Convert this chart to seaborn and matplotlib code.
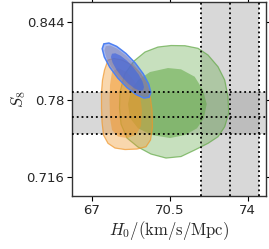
import matplotlib
matplotlib.use("Agg")
import matplotlib.pyplot as plt
import seaborn as sns

# local H0 prior and weak-lensing S8 prior (mean, errors)
h0_mean, h0_err = 73.2, 1.3
s8_mean, s8_up, s8_dn = 0.766, 0.020, 0.014

x_ticks = [67, 70.5, 74]
y_ticks = [0.716, 0.78, 0.844]

# contour outlines (H0, S8)
green95_h0 = [70.562, 71.191, 71.775, 72.224, 72.674, 72.975, 73.123, 73.154, 72.975, 72.674,
              72.224, 71.627, 71.012, 70.338, 69.664, 69.080, 68.586, 68.316, 68.249, 68.271,
              68.483, 68.900, 69.394, 69.978]
green95_s8 = [0.82463, 0.82446, 0.82232, 0.81680, 0.80715, 0.79619, 0.78242, 0.76898, 0.75769, 0.74944,
              0.74400, 0.73848, 0.73312, 0.73188, 0.73518, 0.74095, 0.74837, 0.75991, 0.77310, 0.78629,
              0.80113, 0.81185, 0.81927, 0.82339]
green68_h0 = [70.428, 71.012, 71.627, 72.000, 72.166, 72.045, 71.730, 71.191, 70.517, 69.709,
              69.080, 68.720, 68.631, 68.766, 69.080, 69.619]
green68_s8 = [0.80608, 0.80501, 0.79891, 0.78794, 0.77640, 0.76486, 0.75637, 0.75084, 0.74837, 0.75084,
              0.75637, 0.76486, 0.77640, 0.78794, 0.79619, 0.80278]

orange95_h0 = [67.732, 67.575, 67.485, 67.440, 67.440, 67.463, 67.530, 67.732, 68.047, 68.496,
               69.035, 69.439, 69.642, 69.731, 69.709, 69.619, 69.439, 69.170, 68.810, 68.361, 68.002]
orange95_s8 = [0.81267, 0.80443, 0.79619, 0.78629, 0.77310, 0.76156, 0.75084, 0.74400, 0.74013, 0.73889,
               0.73930, 0.74120, 0.74672, 0.75744, 0.77145, 0.78382, 0.79371, 0.80196, 0.80855, 0.81267, 0.81391]
orange68_h0 = [68.181, 67.912, 67.822, 67.800, 67.822, 67.912, 68.181, 68.586, 68.990, 69.215,
               69.260, 69.170, 68.945, 68.586]
orange68_s8 = [0.80608, 0.80278, 0.79206, 0.77970, 0.76486, 0.75496, 0.74961, 0.74837, 0.75084, 0.75826,
               0.77145, 0.78382, 0.79454, 0.80278]

blue95_h0 = [69.581, 69.655, 69.561, 69.316, 68.957, 68.537, 68.122, 67.774, 67.546, 67.472,
             67.566, 67.811, 68.170, 68.589, 69.005, 69.353]
blue95_s8 = [0.78203, 0.78605, 0.79281, 0.80126, 0.81015, 0.81810, 0.82390, 0.82668, 0.82600, 0.82198,
             0.81523, 0.80677, 0.79788, 0.78994, 0.78413, 0.78135]
bluemid_h0 = [69.493, 69.554, 69.463, 69.236, 68.906, 68.523, 68.148, 67.835, 67.634, 67.573,
              67.664, 67.891, 68.221, 68.603, 68.979, 69.292]
bluemid_s8 = [0.78392, 0.78749, 0.79357, 0.80125, 0.80935, 0.81665, 0.82200, 0.82464, 0.82412, 0.82055,
              0.81446, 0.80679, 0.79868, 0.79139, 0.78604, 0.78340]
blue68_h0 = [69.306, 69.351, 69.283, 69.113, 68.865, 68.579, 68.297, 68.062, 67.911, 67.865,
             67.934, 68.103, 68.351, 68.638, 68.920, 69.155]
blue68_s8 = [0.78770, 0.79038, 0.79495, 0.80070, 0.80678, 0.81224, 0.81627, 0.81825, 0.81786, 0.81518,
             0.81061, 0.80486, 0.79878, 0.79332, 0.78929, 0.78731]

sns.set_theme(style="ticks")
plt.rcParams["font.family"] = ["DejaVu Sans"]
plt.rcParams["mathtext.fontset"] = "cm"

fig = plt.figure(figsize=(2.69, 2.49), dpi=100)
ax = fig.add_axes([72 / 269, 53 / 249, 194 / 269, 194 / 249])

# priors: shaded bands with dotted mean / 1-sigma lines
ax.axvspan(h0_mean - h0_err, h0_mean + h0_err, color="grey", alpha=0.3, lw=0, zorder=1)
ax.axhspan(s8_mean - s8_dn, s8_mean + s8_up, color="grey", alpha=0.3, lw=0, zorder=1)

# contours
green = (0.38, 0.66, 0.27)
orange = (0.94, 0.59, 0.16)
blue = (0.25, 0.40, 0.88)
ax.fill(green95_h0, green95_s8, fc=green, alpha=0.35, ec="none", zorder=2)
ax.fill(green95_h0, green95_s8, fc="none", ec=green, lw=0.9, alpha=0.7, zorder=2)
ax.fill(green68_h0, green68_s8, fc=green, alpha=0.55, ec="none", zorder=2)

ax.fill(orange95_h0, orange95_s8, fc=orange, alpha=0.38, ec="none", zorder=3)
ax.fill(orange95_h0, orange95_s8, fc="none", ec=orange, lw=0.9, alpha=0.7, zorder=3)
ax.fill(orange68_h0, orange68_s8, fc=orange, alpha=0.5, ec="none", zorder=3)

ax.fill(blue95_h0, blue95_s8, fc=blue, alpha=0.45, ec="none", zorder=4)
ax.fill(bluemid_h0, bluemid_s8, fc=(0.5, 0.5, 0.65), alpha=0.45, ec="none", zorder=4)
ax.fill(blue68_h0, blue68_s8, fc=blue, alpha=0.65, ec="none", zorder=4)
ax.fill(blue95_h0, blue95_s8, fc="none", ec=(0.3, 0.5, 0.95), lw=1.1, zorder=4)

for x in [h0_mean - h0_err, h0_mean, h0_mean + h0_err]:
    ax.axvline(x, color="black", ls=":", lw=1.3, zorder=5)
for y in [s8_mean - s8_dn, s8_mean, s8_mean + s8_up]:
    ax.axhline(y, color="black", ls=":", lw=1.3, zorder=5)

ax.set_xlim(66.115, 74.83)
ax.set_ylim(0.7006, 0.8605)
ax.set_xticks(x_ticks)
ax.set_xticklabels(["67", "70.5", "74"])
ax.set_yticks(y_ticks)
ax.set_yticklabels(["0.716", "0.78", "0.844"])
ax.tick_params(axis="both", direction="out", length=3.5, width=0.8, labelsize=9.5, color="black", pad=2)
ax.tick_params(axis="x", top=True)
ax.tick_params(axis="y", right=True)
for s in ax.spines.values():
    s.set_color("#333333")
    s.set_linewidth(1.0)

ax.set_xlabel(r"$H_0/(\mathrm{km/s/Mpc})$", fontsize=12, labelpad=2)
ax.set_ylabel(r"$S_8$", fontsize=12, labelpad=-1)

fig.savefig("out.png", dpi=100)
